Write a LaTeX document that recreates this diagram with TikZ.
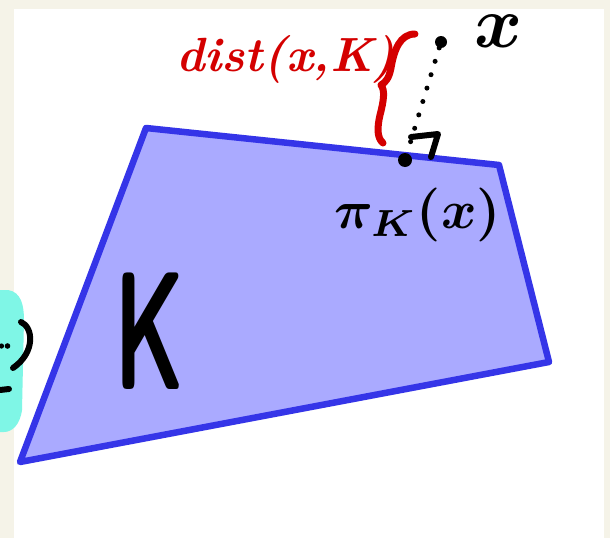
\documentclass[tikz,border=0pt]{standalone}
\usepackage{graphicx}
\usepackage{fontspec}
\definecolor{cream}{HTML}{F5F3E8}
\definecolor{setfill}{HTML}{AAAAFF}
\definecolor{setedge}{HTML}{3535E8}
\definecolor{blob}{HTML}{7FF6E6}
\definecolor{penred}{HTML}{D40000}
\begin{document}
\begin{tikzpicture}[x=1pt,y=-1pt,
  pen/.style={line width=#1,line cap=round,line join=round},
  pen/.default=6pt,
  dotmark/.style={circle,fill=black,inner sep=0pt,minimum size=#1},
  lbl/.style={inner sep=0pt,outer sep=0pt}]
\useasboundingbox (0,0) rectangle (610,538);
% background
\fill[cream] (0,0) rectangle (610,538);
\fill[white] (14,9) rectangle (604,538);
% cyan blob with partial face
\fill[blob] (0,290) -- (8,290) .. controls (21,292) and (24,305) .. (24,320) -- (22,410) .. controls (20,425) and (12,432) .. (4,432) -- (0,432) -- cycle;
\fill[black] (1.5,346) circle (2.6);
\fill[black] (7.5,346) circle (2.8);
\draw[pen=6pt] (21,322) .. controls (33,327) and (36,352) .. (13,368);
\draw[pen=6pt] (0,390) -- (9,389);
% the set K
\draw[setedge,fill=setfill,line width=6.5pt,line join=round] (146,128) -- (499,165) -- (549,362) -- (20,462) -- cycle;
\node[lbl,xscale=0.55,font=\sffamily\bfseries\fontsize{168}{168}\selectfont] (Klbl) at (150,331) {K};
% points
\node[dotmark=12pt] (xdot) at (441,42) {};
\node[dotmark=14pt] (pidot) at (405,160) {};
\draw[pen=5pt,dash pattern=on 0pt off 14pt] (xdot) -- (pidot);
% right-angle mark
\coordinate (ra1) at (411,137);
\coordinate (ra2) at (438,134);
\coordinate (ra3) at (431,157);
\draw[pen=6pt] (ra1) -- (ra2) -- (ra3);
% labels
\node[lbl,anchor=base west] (xlbl) at (474,47) {\scalebox{7.3}{\boldmath$x$}};
\node[lbl,anchor=base west] (pilbl) at (334,228) {\scalebox{5.4}{\boldmath$\pi_K(x)$}};
\node[lbl,anchor=base west,text=penred,font=\bfseries\itshape\fontsize{48}{48}\selectfont] (dist) at (176,71) {dist(x,K)};
% brace
\draw[penred,pen=7pt] (415,34) .. controls (400,34) and (394,50) .. (391,68) .. controls (389,78) and (386,82) .. (381,85) .. controls (385,90) and (384,100) .. (380,115) .. controls (377,128) and (377,138) .. (383,143);
\end{tikzpicture}
\end{document}
